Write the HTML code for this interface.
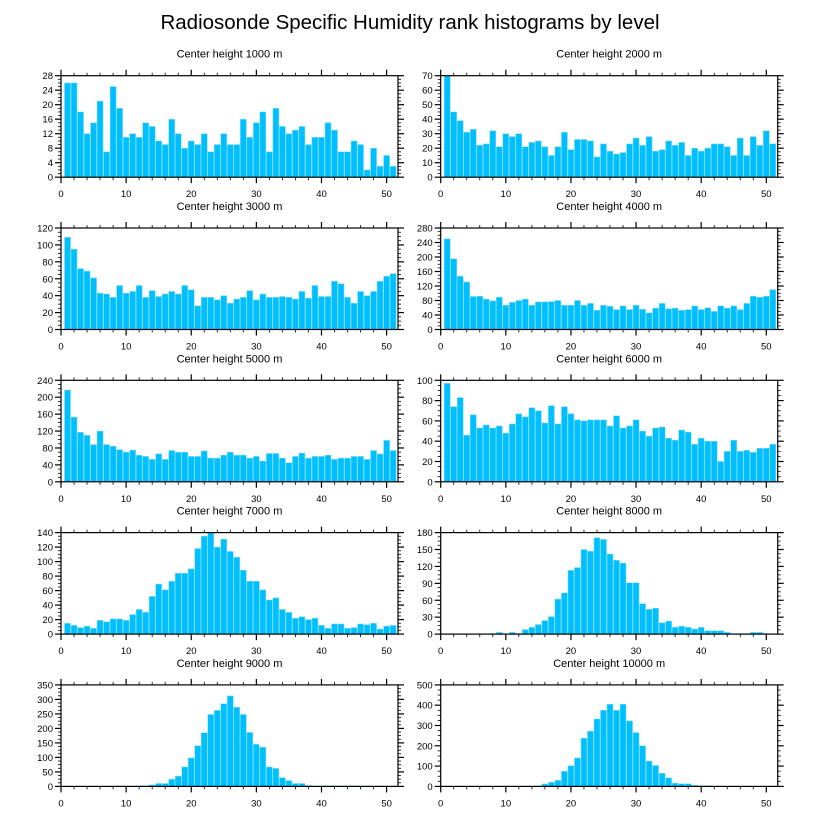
<!DOCTYPE html>
<html><head><meta charset="utf-8"><style>
html,body{margin:0;padding:0;background:#fff;}
svg{display:block;font-family:"Liberation Sans",Arial,sans-serif;}
</style></head><body>
<svg id="chart" width="818" height="824" viewBox="0 0 818 824" xmlns="http://www.w3.org/2000/svg">
<text x="410" y="29" font-size="20.5" text-anchor="middle" fill="#000">Radiosonde Specific Humidity rank histograms by level</text>
</svg>
<script>
const ranks = [1,2,3,4,5,6,7,8,9,10,11,12,13,14,15,16,17,18,19,20,21,22,23,24,25,26,27,28,29,30,31,32,33,34,35,36,37,38,39,40,41,42,43,44,45,46,47,48,49,50,51];
const levels = ["1000","2000","3000","4000","5000","6000","7000","8000","9000","10000"];
const h1000 = [26,26,18,12,15,21,7,25,19,11,12,11,15,14,10,9,16,12,8,10,9,12,7,9,12,9,9,16,11,15,18,7,19,14,12,13,14,9,11,11,15,13,7,7,10,9,2,8,3,6,3];
const h2000 = [70,45,39,31,33,22,23,32,21,30,28,30,21,24,25,21,15,21,31,19,26,26,25,14,23,18,16,17,23,27,22,28,18,19,25,22,24,15,20,18,20,23,23,21,15,27,15,28,22,32,23];
const h3000 = [109,95,72,69,61,43,42,38,52,43,45,52,38,46,39,42,45,42,52,47,28,38,38,35,40,31,36,38,46,35,42,38,38,39,38,36,45,37,52,39,39,57,54,38,31,45,40,45,57,63,66];
const h4000 = [250,195,147,131,91,92,84,79,89,67,75,80,84,67,76,76,77,80,67,67,80,67,72,53,67,64,55,65,55,67,56,46,59,72,57,59,53,55,65,55,60,50,65,59,65,55,72,92,89,92,110];
const h5000 = [217,153,117,110,88,120,88,84,76,70,75,63,60,53,66,53,74,70,70,60,60,73,56,56,63,70,63,63,56,60,49,67,67,56,45,60,68,56,60,60,63,53,56,56,60,60,53,74,66,98,74];
const h6000 = [97,74,83,46,66,53,56,53,55,48,57,67,64,73,70,58,75,57,74,67,61,60,61,61,61,55,65,53,55,61,50,45,53,54,43,41,51,49,37,43,40,40,20,30,41,30,31,29,33,33,37];
const h7000 = [15,12,9,11,8,19,17,21,21,19,27,34,30,52,69,61,73,84,84,90,118,135,140,120,131,114,106,88,73,73,61,47,50,34,30,22,24,20,22,12,8,14,14,8,9,14,13,15,7,11,12];
const h8000 = [0,0,0,0,0,0,0,1,3,0,3,1,8,12,17,24,31,62,73,113,118,150,147,171,168,142,131,126,91,91,54,44,46,20,23,12,14,12,9,12,6,6,6,3,1,1,1,3,3,1,0];
const h9000 = [0,0,0,0,0,0,0,0,0,0,0,2,2,5,10,10,25,35,67,98,140,185,248,262,285,312,273,248,186,145,135,67,62,30,20,10,10,3,1,2,2,2,1,2,2,1,1,1,1,1,1];
const h10000 = [0,0,0,0,0,0,0,0,0,0,0,0,0,0,2,12,20,30,75,102,140,237,272,332,375,405,375,405,323,265,200,125,103,65,42,16,13,13,5,3,3,0,0,0,0,0,0,0,0,0,0];
const yMaxes = [28,70,120,280,240,100,140,180,350,500];
const yTickSteps = [4,10,20,40,40,20,20,30,50,100];
const xTickLabels = [0,10,20,30,40,50];

const series = [h1000,h2000,h3000,h4000,h5000,h6000,h7000,h8000,h9000,h10000];
const NS = "http://www.w3.org/2000/svg";
const svg = document.getElementById("chart");
const XMAX = 51.75, PW = 337, PH = 101.5;
function mk(tag, attrs, parent){const e=document.createElementNS(NS,tag);for(const k in attrs)e.setAttribute(k,attrs[k]);(parent||svg).appendChild(e);return e;}

series.forEach((vals, p) => {
  const col = p % 2, row = Math.floor(p/2);
  const L = col ? 440.7 : 61, T = 75.7 + row*152.3;
  const g = mk("g", {});
  
  
  const xs = v => L + v / XMAX * PW;
  const ys = v => T + PH - v / yMaxes[p] * PH;
  const t = mk("text", {x: L + PW/2, y: T - 18, "font-size": 11, "text-anchor": "middle"}, g);
  t.textContent = "Center height " + levels[p] + " m";
  
  
  vals.forEach((v, i) => {
    if (v <= 0) return;
    const r = mk("rect", {x: xs(ranks[i]-0.46), y: ys(v), width: xs(0.92)-xs(0), height: ys(0)-ys(v), fill: "#00bfff", stroke: "#7fdcff", "stroke-width": 0.5}, g);
    
    
  });
  const fr = mk("rect", {x: L, y: T, width: PW, height: PH, fill: "none", stroke: "#000", "stroke-width": 1.2}, g);
  
  
  for (let v = 0; v <= 51; v += 2) {
    const major = v % 10 === 0, len = major ? 6 : 3, x = xs(v);
    mk("line", {x1: x, x2: x, y1: T+PH, y2: T+PH+len, stroke: "#000", "stroke-width": major?1.2:0.8}, g);
    mk("line", {x1: x, x2: x, y1: T, y2: T-len, stroke: "#000", "stroke-width": major?1.2:0.8}, g);
  }
  xTickLabels.forEach(v => {
    const tl = mk("text", {x: xs(v), y: T+PH+20, "font-size": 9.5, "text-anchor": "middle"}, g);
    tl.textContent = v;
    
    
  });
  const st = yTickSteps[p], minor = st / 4;
  for (let v = 0; v <= yMaxes[p] + 1e-9; v += minor) {
    const major = Math.abs(v / st - Math.round(v / st)) < 1e-6, len = major ? 6 : 3, y = ys(v);
    mk("line", {x1: L, x2: L-len, y1: y, y2: y, stroke: "#000", "stroke-width": major?1.2:0.8}, g);
    mk("line", {x1: L+PW, x2: L+PW+len, y1: y, y2: y, stroke: "#000", "stroke-width": major?1.2:0.8}, g);
    if (major) {
      const yl = mk("text", {x: L-8, y: y+3.5, "font-size": 9.5, "text-anchor": "end"}, g);
      yl.textContent = Math.round(v);
      
      
    }
  }
});
</script>
</body></html>
